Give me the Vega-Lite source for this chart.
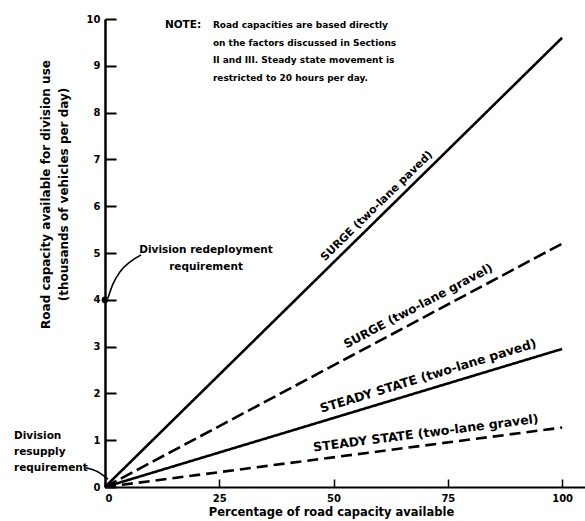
{
  "$schema": "https://vega.github.io/schema/vega-lite/v6.json",
  "width": 480,
  "height": 468,
  "autosize": {"type": "none"},
  "padding": {"left": 105, "top": 19, "right": 0, "bottom": 34},
  "background": "white",
  "config": {
    "view": {"stroke": null},
    "font": "DejaVu Sans",
    "text": {"font": "DejaVu Sans", "fontWeight": "bold", "color": "black"}
  },
  "datasets": {
    "lines": [
      {"series": "surge_paved", "pct": 0, "cap": 0},
      {"series": "surge_paved", "pct": 100, "cap": 9.6},
      {"series": "surge_gravel", "pct": 0, "cap": 0},
      {"series": "surge_gravel", "pct": 100, "cap": 5.2},
      {"series": "steady_paved", "pct": 0, "cap": 0},
      {"series": "steady_paved", "pct": 100, "cap": 2.95},
      {"series": "steady_gravel", "pct": 0, "cap": 0},
      {"series": "steady_gravel", "pct": 100, "cap": 1.27}
    ],
    "labels": [
      {"series": "surge_paved", "label": "SURGE (two-lane paved)", "pct": 59.5, "cap": 6.0},
      {"series": "surge_gravel", "label": "SURGE (two-lane gravel)", "pct": 68.5, "cap": 3.87},
      {"series": "steady_paved", "label": "STEADY STATE (two-lane paved)", "pct": 70.7, "cap": 2.37},
      {"series": "steady_gravel", "label": "STEADY STATE (two-lane gravel)", "pct": 70.2, "cap": 1.15}
    ],
    "notes": [
      {"id": "note_head", "text": "NOTE:", "pct": 13.1, "cap": 9.87},
      {"id": "note_body", "text": "Road capacities are based directly\non the factors discussed in Sections\nII and III.  Steady state movement is\nrestricted to 20 hours per day.", "pct": 23.6, "cap": 9.87},
      {"id": "redeploy", "text": "Division redeployment\nrequirement", "pct": 22.1, "cap": 5.06},
      {"id": "resupply", "text": "Division\nresupply\nrequirement", "pct": -19.9, "cap": 1.09}
    ],
    "leaders": [
      {"id": "redeploy", "order": 1, "pct": 7.9, "cap": 4.96},
      {"id": "redeploy", "order": 2, "pct": 5.5, "cap": 4.81},
      {"id": "redeploy", "order": 3, "pct": 3.3, "cap": 4.6},
      {"id": "redeploy", "order": 4, "pct": 1.75, "cap": 4.34},
      {"id": "redeploy", "order": 5, "pct": 0.65, "cap": 4.04},
      {"id": "resupply", "order": 1, "pct": -4.2, "cap": 0.41},
      {"id": "resupply", "order": 2, "pct": -1.5, "cap": 0.32},
      {"id": "resupply", "order": 3, "pct": 0.65, "cap": 0.17}
    ],
    "dots": [
      {"pct": 0, "cap": 4}
    ]
  },
  "layer": [
    {
      "data": {"name": "lines"},
      "mark": {"type": "line", "color": "black", "strokeCap": "butt"},
      "encoding": {
        "x": {
          "field": "pct", "type": "quantitative",
          "scale": {"domain": [0, 105], "nice": false, "zero": false},
          "axis": {
            "values": [0, 25, 50, 75, 100],
            "title": "Percentage of road capacity available",
            "titleFont": "DejaVu Sans", "titleFontWeight": "bold", "titleFontSize": 11.5, "titleColor": "black",
            "titleX": 226, "titleY": 25, "titleBaseline": "middle", "titleAlign": "center",
            "labelFont": "DejaVu Sans", "labelFontWeight": "bold", "labelFontSize": 10, "labelColor": "black",
            "labelPadding": 14,
            "tickSize": -8, "tickWidth": 1.5, "tickColor": "black",
            "domainColor": "black", "domainWidth": 2,
            "grid": false
          }
        },
        "y": {
          "field": "cap", "type": "quantitative",
          "scale": {"domain": [0, 10], "nice": false},
          "axis": {
            "values": [0, 1, 2, 3, 4, 5, 6, 7, 8, 9, 10],
            "title": ["Road capacity available for division use", "(thousands of vehicles per day)"],
            "titleFont": "DejaVu Sans", "titleFontWeight": "bold", "titleFontSize": 12, "titleColor": "black",
            "titleAngle": 270, "titleX": -60, "titleY": 175, "titleBaseline": "middle", "titleAlign": "center",
            "titleLineHeight": 18,
            "labelFont": "DejaVu Sans", "labelFontWeight": "bold", "labelFontSize": 10, "labelColor": "black",
            "labelPadding": 16,
            "tickSize": -11, "tickWidth": 2, "tickColor": "black",
            "domainColor": "black", "domainWidth": 2.5,
            "grid": false
          }
        },
        "detail": {"field": "series"},
        "strokeDash": {
          "field": "series", "type": "nominal",
          "scale": {
            "domain": ["surge_paved", "surge_gravel", "steady_paved", "steady_gravel"],
            "range": [[1, 0], [13, 5], [1, 0], [11, 6]]
          },
          "legend": null
        },
        "strokeWidth": {
          "field": "series", "type": "nominal",
          "scale": {
            "domain": ["surge_paved", "surge_gravel", "steady_paved", "steady_gravel"],
            "range": [2.6, 2.6, 1.6, 1.6]
          },
          "legend": null
        }
      }
    },
    {
      "data": {"name": "labels"},
      "transform": [{"filter": "datum.series === 'surge_paved'"}],
      "mark": {"type": "text", "angle": -44.5, "fontSize": 11, "baseline": "middle", "align": "center"},
      "encoding": {
        "x": {"field": "pct", "type": "quantitative"},
        "y": {"field": "cap", "type": "quantitative"},
        "text": {"field": "label"}
      }
    },
    {
      "data": {"name": "labels"},
      "transform": [{"filter": "datum.series === 'surge_gravel'"}],
      "mark": {"type": "text", "angle": -28, "fontSize": 12, "baseline": "middle", "align": "center"},
      "encoding": {
        "x": {"field": "pct", "type": "quantitative"},
        "y": {"field": "cap", "type": "quantitative"},
        "text": {"field": "label"}
      }
    },
    {
      "data": {"name": "labels"},
      "transform": [{"filter": "datum.series === 'steady_paved'"}],
      "mark": {"type": "text", "angle": -17, "fontSize": 12.5, "baseline": "middle", "align": "center"},
      "encoding": {
        "x": {"field": "pct", "type": "quantitative"},
        "y": {"field": "cap", "type": "quantitative"},
        "text": {"field": "label"}
      }
    },
    {
      "data": {"name": "labels"},
      "transform": [{"filter": "datum.series === 'steady_gravel'"}],
      "mark": {"type": "text", "angle": -7.3, "fontSize": 12.5, "baseline": "middle", "align": "center"},
      "encoding": {
        "x": {"field": "pct", "type": "quantitative"},
        "y": {"field": "cap", "type": "quantitative"},
        "text": {"field": "label"}
      }
    },
    {
      "data": {"name": "notes"},
      "transform": [{"filter": "datum.id === 'note_head'"}],
      "mark": {"type": "text", "fontSize": 10.5, "baseline": "middle", "align": "left"},
      "encoding": {
        "x": {"field": "pct", "type": "quantitative"},
        "y": {"field": "cap", "type": "quantitative"},
        "text": {"field": "text"}
      }
    },
    {
      "data": {"name": "notes"},
      "transform": [{"filter": "datum.id === 'note_body'"}],
      "mark": {"type": "text", "fontSize": 9, "baseline": "middle", "align": "left", "lineHeight": 17.7, "lineBreak": "\n"},
      "encoding": {
        "x": {"field": "pct", "type": "quantitative"},
        "y": {"field": "cap", "type": "quantitative"},
        "text": {"field": "text"}
      }
    },
    {
      "data": {"name": "notes"},
      "transform": [{"filter": "datum.id === 'redeploy'"}],
      "mark": {"type": "text", "fontSize": 10.5, "baseline": "middle", "align": "center", "lineHeight": 17, "lineBreak": "\n"},
      "encoding": {
        "x": {"field": "pct", "type": "quantitative"},
        "y": {"field": "cap", "type": "quantitative"},
        "text": {"field": "text"}
      }
    },
    {
      "data": {"name": "notes"},
      "transform": [{"filter": "datum.id === 'resupply'"}],
      "mark": {"type": "text", "fontSize": 10.5, "baseline": "middle", "align": "left", "lineHeight": 16, "lineBreak": "\n"},
      "encoding": {
        "x": {"field": "pct", "type": "quantitative"},
        "y": {"field": "cap", "type": "quantitative"},
        "text": {"field": "text"}
      }
    },
    {
      "data": {"name": "leaders"},
      "mark": {"type": "line", "color": "black", "strokeWidth": 1.6, "interpolate": "monotone"},
      "encoding": {
        "x": {"field": "pct", "type": "quantitative"},
        "y": {"field": "cap", "type": "quantitative"},
        "detail": {"field": "id"},
        "order": {"field": "order"}
      }
    },
    {
      "data": {"name": "dots"},
      "mark": {"type": "point", "filled": true, "color": "black", "size": 45, "opacity": 1},
      "encoding": {
        "x": {"field": "pct", "type": "quantitative"},
        "y": {"field": "cap", "type": "quantitative"}
      }
    }
  ]
}
